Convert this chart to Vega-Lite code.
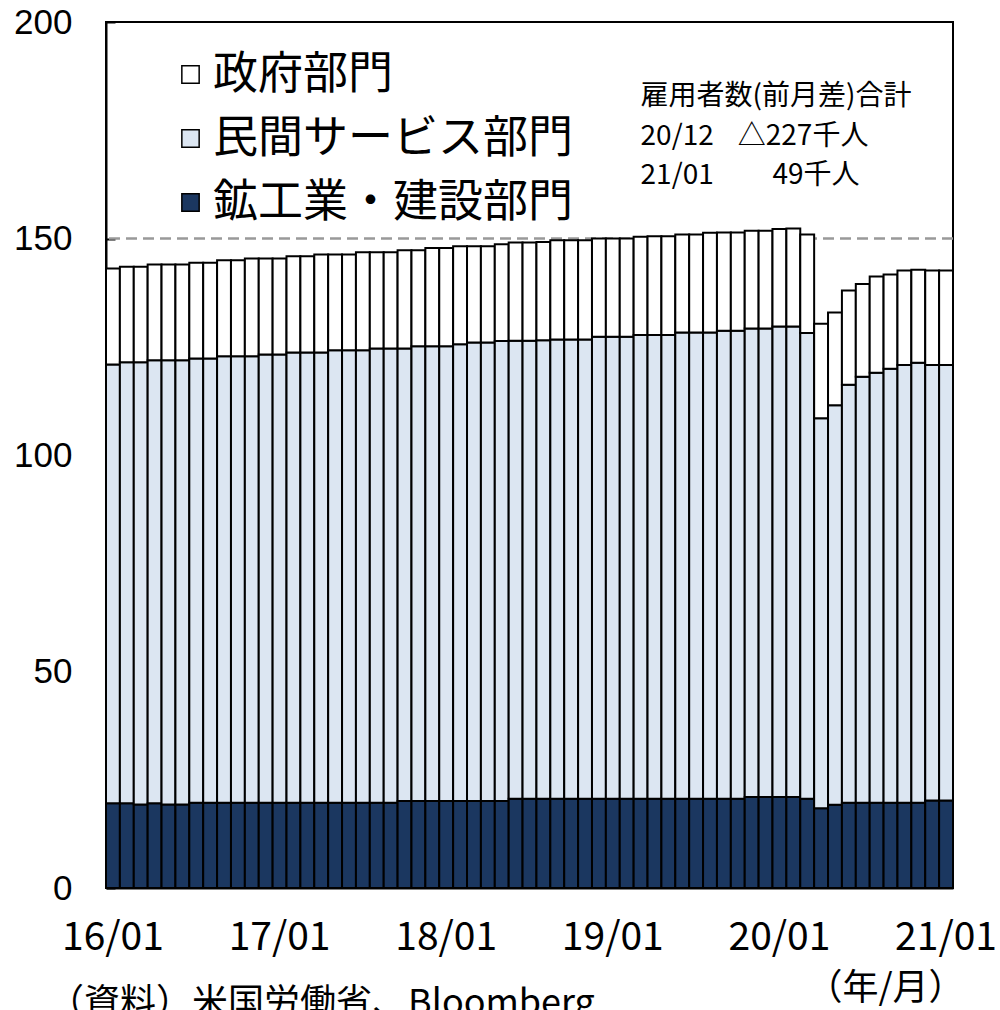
{
  "$schema": "https://vega.github.io/schema/vega-lite/v6.json",
  "width": 847,
  "height": 866,
  "autosize": "none",
  "padding": {"left": 106, "top": 22, "right": 47, "bottom": 122},
  "background": "white",
  "config": {
    "view": {"stroke": "black", "strokeWidth": 2},
    "font": "Noto Sans CJK JP"
  },
  "title": {
    "text": "（資料）米国労働省、Bloomberg",
    "orient": "bottom",
    "anchor": "start",
    "frame": "group",
    "font": "Noto Sans CJK JP",
    "fontSize": 36,
    "fontWeight": "normal",
    "color": "black",
    "baseline": "top",
    "offset": -19,
    "dx": -58
  },
  "layer": [
    {
      "data": {"values": [{"level": 150}]},
      "mark": {"type": "rule", "color": "#999999", "strokeWidth": 2.5, "strokeDash": [11, 6]},
      "encoding": {"y": {"field": "level", "type": "quantitative"}}
    },
    {
      "data": {"values": [
        {"month":"16/01","sector":"鉱工業・建設部門","value":19.6},{"month":"16/01","sector":"民間サービス部門","value":101.3},{"month":"16/01","sector":"政府部門","value":22.2},
        {"month":"16/02","sector":"鉱工業・建設部門","value":19.6},{"month":"16/02","sector":"民間サービス部門","value":101.8},{"month":"16/02","sector":"政府部門","value":22.1},
        {"month":"16/03","sector":"鉱工業・建設部門","value":19.3},{"month":"16/03","sector":"民間サービス部門","value":102.1},{"month":"16/03","sector":"政府部門","value":22.1},
        {"month":"16/04","sector":"鉱工業・建設部門","value":19.6},{"month":"16/04","sector":"民間サービス部門","value":102.3},{"month":"16/04","sector":"政府部門","value":22.1},
        {"month":"16/05","sector":"鉱工業・建設部門","value":19.3},{"month":"16/05","sector":"民間サービス部門","value":102.6},{"month":"16/05","sector":"政府部門","value":22.1},
        {"month":"16/06","sector":"鉱工業・建設部門","value":19.3},{"month":"16/06","sector":"民間サービス部門","value":102.6},{"month":"16/06","sector":"政府部門","value":22.1},
        {"month":"16/07","sector":"鉱工業・建設部門","value":19.7},{"month":"16/07","sector":"民間サービス部門","value":102.6},{"month":"16/07","sector":"政府部門","value":22.1},
        {"month":"16/08","sector":"鉱工業・建設部門","value":19.7},{"month":"16/08","sector":"民間サービス部門","value":102.6},{"month":"16/08","sector":"政府部門","value":22.1},
        {"month":"16/09","sector":"鉱工業・建設部門","value":19.7},{"month":"16/09","sector":"民間サービス部門","value":103.1},{"month":"16/09","sector":"政府部門","value":22.2},
        {"month":"16/10","sector":"鉱工業・建設部門","value":19.7},{"month":"16/10","sector":"民間サービス部門","value":103.1},{"month":"16/10","sector":"政府部門","value":22.2},
        {"month":"16/11","sector":"鉱工業・建設部門","value":19.7},{"month":"16/11","sector":"民間サービス部門","value":103.1},{"month":"16/11","sector":"政府部門","value":22.6},
        {"month":"16/12","sector":"鉱工業・建設部門","value":19.7},{"month":"16/12","sector":"民間サービス部門","value":103.5},{"month":"16/12","sector":"政府部門","value":22.2},
        {"month":"17/01","sector":"鉱工業・建設部門","value":19.7},{"month":"17/01","sector":"民間サービス部門","value":103.5},{"month":"17/01","sector":"政府部門","value":22.2},
        {"month":"17/02","sector":"鉱工業・建設部門","value":19.7},{"month":"17/02","sector":"民間サービス部門","value":104.0},{"month":"17/02","sector":"政府部門","value":22.2},
        {"month":"17/03","sector":"鉱工業・建設部門","value":19.7},{"month":"17/03","sector":"民間サービス部門","value":104.0},{"month":"17/03","sector":"政府部門","value":22.2},
        {"month":"17/04","sector":"鉱工業・建設部門","value":19.7},{"month":"17/04","sector":"民間サービス部門","value":104.0},{"month":"17/04","sector":"政府部門","value":22.6},
        {"month":"17/05","sector":"鉱工業・建設部門","value":19.7},{"month":"17/05","sector":"民間サービス部門","value":104.5},{"month":"17/05","sector":"政府部門","value":22.1},
        {"month":"17/06","sector":"鉱工業・建設部門","value":19.7},{"month":"17/06","sector":"民間サービス部門","value":104.5},{"month":"17/06","sector":"政府部門","value":22.1},
        {"month":"17/07","sector":"鉱工業・建設部門","value":19.7},{"month":"17/07","sector":"民間サービス部門","value":104.5},{"month":"17/07","sector":"政府部門","value":22.6},
        {"month":"17/08","sector":"鉱工業・建設部門","value":19.7},{"month":"17/08","sector":"民間サービス部門","value":104.9},{"month":"17/08","sector":"政府部門","value":22.2},
        {"month":"17/09","sector":"鉱工業・建設部門","value":19.7},{"month":"17/09","sector":"民間サービス部門","value":104.9},{"month":"17/09","sector":"政府部門","value":22.2},
        {"month":"17/10","sector":"鉱工業・建設部門","value":20.1},{"month":"17/10","sector":"民間サービス部門","value":104.5},{"month":"17/10","sector":"政府部門","value":22.7},
        {"month":"17/11","sector":"鉱工業・建設部門","value":20.1},{"month":"17/11","sector":"民間サービス部門","value":105.0},{"month":"17/11","sector":"政府部門","value":22.2},
        {"month":"17/12","sector":"鉱工業・建設部門","value":20.1},{"month":"17/12","sector":"民間サービス部門","value":105.0},{"month":"17/12","sector":"政府部門","value":22.7},
        {"month":"18/01","sector":"鉱工業・建設部門","value":20.1},{"month":"18/01","sector":"民間サービス部門","value":105.0},{"month":"18/01","sector":"政府部門","value":22.7},
        {"month":"18/02","sector":"鉱工業・建設部門","value":20.1},{"month":"18/02","sector":"民間サービス部門","value":105.5},{"month":"18/02","sector":"政府部門","value":22.6},
        {"month":"18/03","sector":"鉱工業・建設部門","value":20.1},{"month":"18/03","sector":"民間サービス部門","value":105.9},{"month":"18/03","sector":"政府部門","value":22.2},
        {"month":"18/04","sector":"鉱工業・建設部門","value":20.1},{"month":"18/04","sector":"民間サービス部門","value":105.9},{"month":"18/04","sector":"政府部門","value":22.2},
        {"month":"18/05","sector":"鉱工業・建設部門","value":20.1},{"month":"18/05","sector":"民間サービス部門","value":106.2},{"month":"18/05","sector":"政府部門","value":22.4},
        {"month":"18/06","sector":"鉱工業・建設部門","value":20.6},{"month":"18/06","sector":"民間サービス部門","value":105.8},{"month":"18/06","sector":"政府部門","value":22.7},
        {"month":"18/07","sector":"鉱工業・建設部門","value":20.6},{"month":"18/07","sector":"民間サービス部門","value":105.8},{"month":"18/07","sector":"政府部門","value":22.7},
        {"month":"18/08","sector":"鉱工業・建設部門","value":20.6},{"month":"18/08","sector":"民間サービス部門","value":105.9},{"month":"18/08","sector":"政府部門","value":22.7},
        {"month":"18/09","sector":"鉱工業・建設部門","value":20.6},{"month":"18/09","sector":"民間サービス部門","value":106.1},{"month":"18/09","sector":"政府部門","value":22.9},
        {"month":"18/10","sector":"鉱工業・建設部門","value":20.6},{"month":"18/10","sector":"民間サービス部門","value":106.1},{"month":"18/10","sector":"政府部門","value":22.9},
        {"month":"18/11","sector":"鉱工業・建設部門","value":20.6},{"month":"18/11","sector":"民間サービス部門","value":106.1},{"month":"18/11","sector":"政府部門","value":22.9},
        {"month":"18/12","sector":"鉱工業・建設部門","value":20.6},{"month":"18/12","sector":"民間サービス部門","value":106.7},{"month":"18/12","sector":"政府部門","value":22.7},
        {"month":"19/01","sector":"鉱工業・建設部門","value":20.6},{"month":"19/01","sector":"民間サービス部門","value":106.7},{"month":"19/01","sector":"政府部門","value":22.7},
        {"month":"19/02","sector":"鉱工業・建設部門","value":20.6},{"month":"19/02","sector":"民間サービス部門","value":106.7},{"month":"19/02","sector":"政府部門","value":22.7},
        {"month":"19/03","sector":"鉱工業・建設部門","value":20.6},{"month":"19/03","sector":"民間サービス部門","value":107.1},{"month":"19/03","sector":"政府部門","value":22.7},
        {"month":"19/04","sector":"鉱工業・建設部門","value":20.6},{"month":"19/04","sector":"民間サービス部門","value":107.1},{"month":"19/04","sector":"政府部門","value":22.8},
        {"month":"19/05","sector":"鉱工業・建設部門","value":20.6},{"month":"19/05","sector":"民間サービス部門","value":107.1},{"month":"19/05","sector":"政府部門","value":22.8},
        {"month":"19/06","sector":"鉱工業・建設部門","value":20.6},{"month":"19/06","sector":"民間サービス部門","value":107.7},{"month":"19/06","sector":"政府部門","value":22.6},
        {"month":"19/07","sector":"鉱工業・建設部門","value":20.6},{"month":"19/07","sector":"民間サービス部門","value":107.7},{"month":"19/07","sector":"政府部門","value":22.6},
        {"month":"19/08","sector":"鉱工業・建設部門","value":20.6},{"month":"19/08","sector":"民間サービス部門","value":107.7},{"month":"19/08","sector":"政府部門","value":23.0},
        {"month":"19/09","sector":"鉱工業・建設部門","value":20.6},{"month":"19/09","sector":"民間サービス部門","value":108.1},{"month":"19/09","sector":"政府部門","value":22.7},
        {"month":"19/10","sector":"鉱工業・建設部門","value":20.6},{"month":"19/10","sector":"民間サービス部門","value":108.1},{"month":"19/10","sector":"政府部門","value":22.7},
        {"month":"19/11","sector":"鉱工業・建設部門","value":21.0},{"month":"19/11","sector":"民間サービス部門","value":108.2},{"month":"19/11","sector":"政府部門","value":22.6},
        {"month":"19/12","sector":"鉱工業・建設部門","value":21.0},{"month":"19/12","sector":"民間サービス部門","value":108.2},{"month":"19/12","sector":"政府部門","value":22.6},
        {"month":"20/01","sector":"鉱工業・建設部門","value":21.0},{"month":"20/01","sector":"民間サービス部門","value":108.7},{"month":"20/01","sector":"政府部門","value":22.5},
        {"month":"20/02","sector":"鉱工業・建設部門","value":21.0},{"month":"20/02","sector":"民間サービス部門","value":108.7},{"month":"20/02","sector":"政府部門","value":22.6},
        {"month":"20/03","sector":"鉱工業・建設部門","value":20.6},{"month":"20/03","sector":"民間サービス部門","value":107.6},{"month":"20/03","sector":"政府部門","value":22.7},
        {"month":"20/04","sector":"鉱工業・建設部門","value":18.4},{"month":"20/04","sector":"民間サービス部門","value":90.1},{"month":"20/04","sector":"政府部門","value":21.8},
        {"month":"20/05","sector":"鉱工業・建設部門","value":19.2},{"month":"20/05","sector":"民間サービス部門","value":92.3},{"month":"20/05","sector":"政府部門","value":21.4},
        {"month":"20/06","sector":"鉱工業・建設部門","value":19.7},{"month":"20/06","sector":"民間サービス部門","value":96.5},{"month":"20/06","sector":"政府部門","value":21.8},
        {"month":"20/07","sector":"鉱工業・建設部門","value":19.7},{"month":"20/07","sector":"民間サービス部門","value":98.4},{"month":"20/07","sector":"政府部門","value":21.4},
        {"month":"20/08","sector":"鉱工業・建設部門","value":19.7},{"month":"20/08","sector":"民間サービス部門","value":99.3},{"month":"20/08","sector":"政府部門","value":22.2},
        {"month":"20/09","sector":"鉱工業・建設部門","value":19.7},{"month":"20/09","sector":"民間サービス部門","value":100.2},{"month":"20/09","sector":"政府部門","value":21.8},
        {"month":"20/10","sector":"鉱工業・建設部門","value":19.7},{"month":"20/10","sector":"民間サービス部門","value":101.1},{"month":"20/10","sector":"政府部門","value":21.8},
        {"month":"20/11","sector":"鉱工業・建設部門","value":19.7},{"month":"20/11","sector":"民間サービス部門","value":101.6},{"month":"20/11","sector":"政府部門","value":21.5},
        {"month":"20/12","sector":"鉱工業・建設部門","value":20.2},{"month":"20/12","sector":"民間サービス部門","value":100.6},{"month":"20/12","sector":"政府部門","value":21.8},
        {"month":"21/01","sector":"鉱工業・建設部門","value":20.2},{"month":"21/01","sector":"民間サービス部門","value":100.6},{"month":"21/01","sector":"政府部門","value":21.8}
      ]},
      "mark": {"type": "bar", "stroke": "black", "strokeWidth": 2},
      "encoding": {
        "x": {
          "field": "month",
          "type": "ordinal",
          "scale": {"paddingInner": 0, "paddingOuter": 0},
          "axis": {
            "values": ["16/01", "17/01", "18/01", "19/01", "20/01", "21/01"],
            "ticks": false,
            "domainColor": "black",
            "domainWidth": 2,
            "labelAngle": 0,
            "labelFont": "Noto Sans CJK JP",
            "labelFontSize": 39,
            "labelColor": "black",
            "labelPadding": 30,
            "labelOverlap": false,
            "title": "（年/月）",
            "titleFont": "Noto Sans CJK JP",
            "titleFontSize": 36,
            "titleFontWeight": "normal",
            "titleColor": "black",
            "titleAnchor": "end",
            "titleAlign": "right",
            "titleBaseline": "middle",
            "titleX": 858,
            "titleY": 100
          }
        },
        "y": {
          "field": "value",
          "type": "quantitative",
          "stack": "zero",
          "scale": {"domain": [0, 200], "nice": false},
          "axis": {
            "title": null,
            "values": [0, 50, 100, 150, 200],
            "grid": false,
            "tickSize": -9,
            "tickColor": "black",
            "tickWidth": 2,
            "domainColor": "black",
            "domainWidth": 2,
            "labelFont": "Liberation Sans",
            "labelFontSize": 35,
            "labelColor": "black",
            "labelPadding": 43
          }
        },
        "color": {
          "field": "sector",
          "type": "nominal",
          "scale": {
            "domain": ["政府部門", "民間サービス部門", "鉱工業・建設部門"],
            "range": ["#ffffff", "#dce6f2", "#1b3760"]
          },
          "legend": {
            "title": null,
            "orient": "none",
            "legendX": 62,
            "legendY": 30,
            "padding": 0,
            "symbolType": "square",
            "symbolSize": 300,
            "symbolStrokeColor": "black",
            "symbolStrokeWidth": 1.5,
            "labelFont": "Noto Sans CJK JP",
            "labelFontSize": 45,
            "labelColor": "black",
            "labelLimit": 600,
            "labelOffset": 0,
            "rowPadding": 18
          }
        },
        "order": {"field": "sector", "sort": "descending"}
      }
    },
    {
      "data": {"values": [
        {"month": "19/03", "y": 182.6, "text": "雇用者数(前月差)合計"},
        {"month": "19/03", "y": 173.4, "text": "20/12"},
        {"month": "19/10", "y": 173.4, "text": "△227千人"},
        {"month": "19/03", "y": 164.5, "text": "21/01"}
      ]},
      "mark": {"type": "text", "align": "left", "baseline": "middle", "font": "Noto Sans CJK JP", "fontSize": 28, "color": "black"},
      "encoding": {
        "x": {"field": "month", "type": "ordinal", "bandPosition": 0.5},
        "y": {"field": "y", "type": "quantitative"},
        "text": {"field": "text"}
      }
    },
    {
      "data": {"values": [
        {"month": "20/01", "y": 164.5, "text": "49千人"}
      ]},
      "mark": {"type": "text", "align": "left", "baseline": "middle", "font": "Noto Sans CJK JP", "fontSize": 28, "color": "black"},
      "encoding": {
        "x": {"field": "month", "type": "ordinal", "bandPosition": 0},
        "y": {"field": "y", "type": "quantitative"},
        "text": {"field": "text"}
      }
    }
  ]
}
